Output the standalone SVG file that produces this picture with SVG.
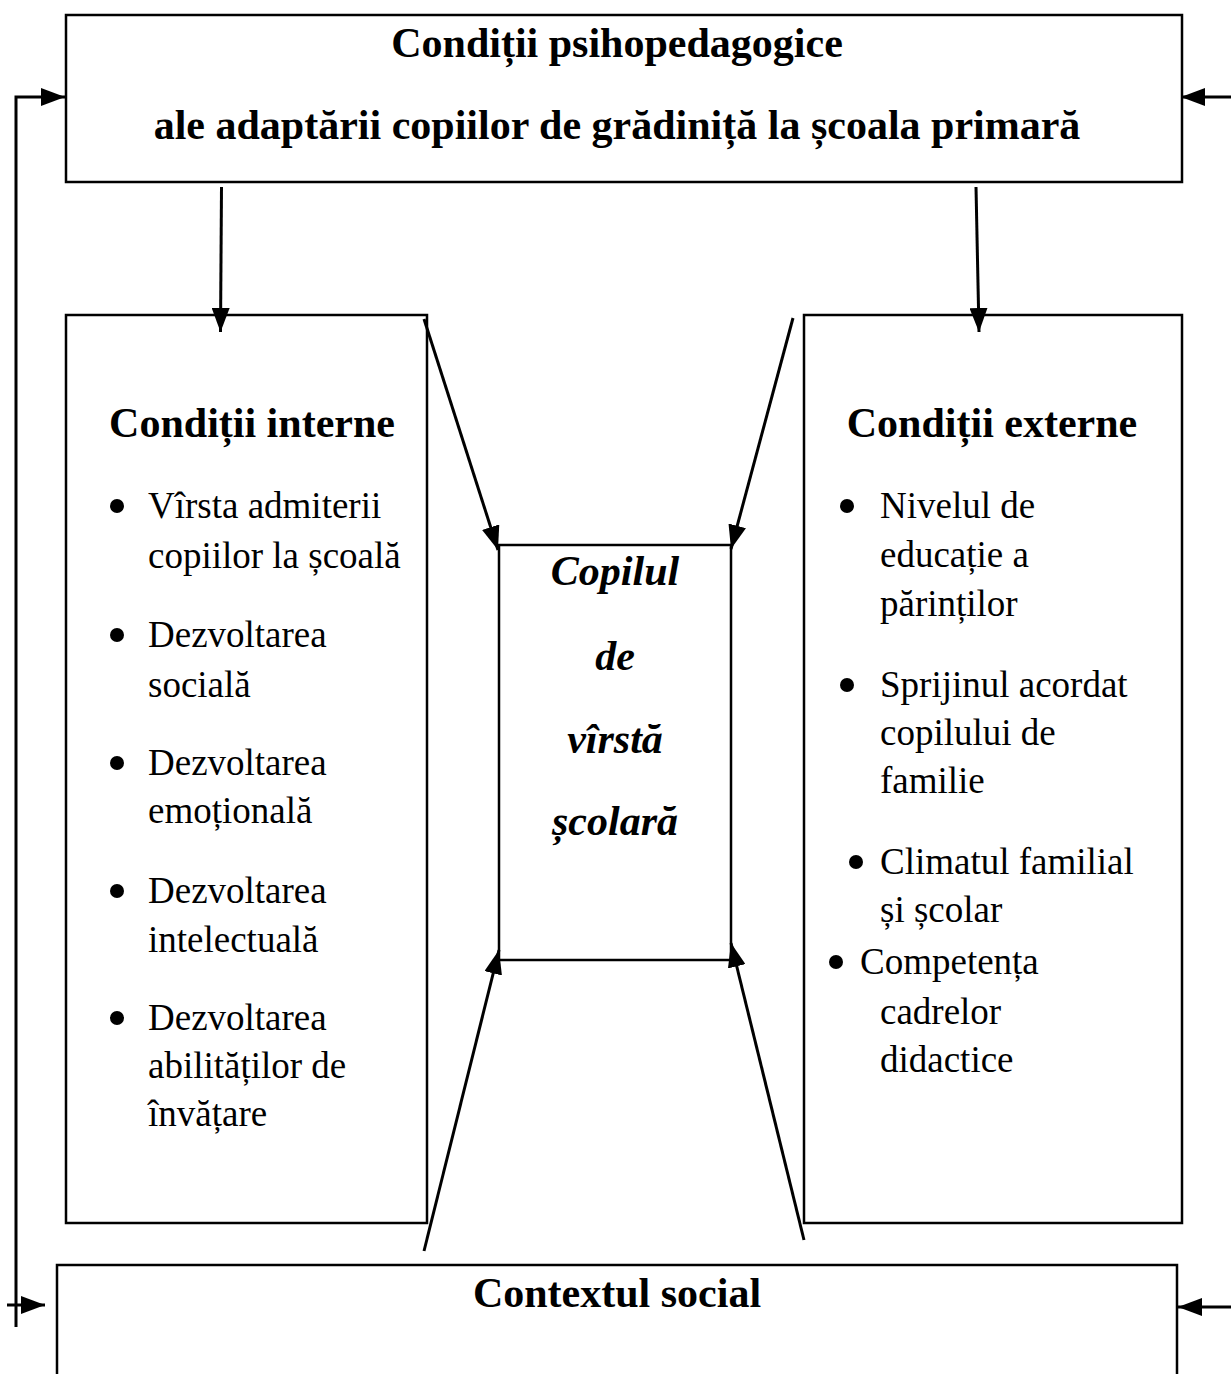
<svg xmlns="http://www.w3.org/2000/svg" width="1231" height="1374" viewBox="0 0 1231 1374">
<style>
.box{fill:#fff;stroke:#000;stroke-width:2.5}
.h{font-family:"Liberation Serif","Times New Roman",serif;font-weight:bold;font-size:42px;fill:#000;text-anchor:middle}
.c{font-family:"Liberation Serif","Times New Roman",serif;font-weight:bold;font-style:italic;font-size:42px;fill:#000;text-anchor:middle}
.t{font-family:"Liberation Serif","Times New Roman",serif;font-size:37px;fill:#000}
.ln{fill:none;stroke:#000;stroke-width:3}
</style>
<defs>
<marker id="ah" viewBox="0 0 24 18" markerWidth="24" markerHeight="18" refX="24" refY="9" orient="auto" markerUnits="userSpaceOnUse">
<path d="M0,0 L24,9 L0,18 Z" fill="#000"/>
</marker>
</defs>
<rect width="1231" height="1374" fill="#fff"/>
<g id="top">
<rect class="box" x="66" y="15" width="1116" height="167"/>
<text class="h" x="617" y="57">Condiții psihopedagogice</text>
<text class="h" x="617" y="139">ale adaptării copiilor de grădiniță la școala primară</text>
</g>
<g id="interne">
<rect class="box" x="66" y="315" width="361" height="908"/>
<text class="h" x="252" y="437">Condiții interne</text>
<g class="t">
<circle cx="117" cy="506" r="7"/><text x="148" y="518">Vîrsta admiterii</text><text x="148" y="568">copiilor la școală</text>
<circle cx="117" cy="635" r="7"/><text x="148" y="647">Dezvoltarea</text><text x="148" y="697">socială</text>
<circle cx="117" cy="763" r="7"/><text x="148" y="775">Dezvoltarea</text><text x="148" y="823">emoțională</text>
<circle cx="117" cy="891" r="7"/><text x="148" y="903">Dezvoltarea</text><text x="148" y="952">intelectuală</text>
<circle cx="117" cy="1018" r="7"/><text x="148" y="1030">Dezvoltarea</text><text x="148" y="1078">abilităților de</text><text x="148" y="1126">învățare</text>
</g>
</g>
<g id="copil">
<rect class="box" x="499" y="545" width="232" height="415"/>
<text class="c" x="615" y="585">Copilul</text>
<text class="c" x="615" y="670">de</text>
<text class="c" x="615" y="753">vîrstă</text>
<text class="c" x="615" y="835">școlară</text>
</g>
<g id="externe">
<rect class="box" x="804" y="315" width="378" height="908"/>
<text class="h" x="992" y="437">Condiții externe</text>
<g class="t">
<circle cx="847" cy="506" r="7"/><text x="880" y="518">Nivelul de</text><text x="880" y="567">educație a</text><text x="880" y="616">părinților</text>
<circle cx="847" cy="685" r="7"/><text x="880" y="697">Sprijinul acordat</text><text x="880" y="745">copilului de</text><text x="880" y="793">familie</text>
<circle cx="856" cy="862" r="7"/><text x="880" y="874">Climatul familial</text><text x="880" y="922">și școlar</text>
<circle cx="836" cy="962" r="7"/><text x="860" y="974">Competența</text><text x="880" y="1024">cadrelor</text><text x="880" y="1072">didactice</text>
</g>
</g>
<g id="context">
<path class="box" d="M57,1380 V1265 H1177 V1380"/>
<text class="h" x="617" y="1307">Contextul social</text>
</g>
<g id="connectors">
<line class="ln" x1="221.5" y1="187" x2="220.5" y2="332" marker-end="url(#ah)"/>
<line class="ln" x1="976" y1="187" x2="979" y2="332" marker-end="url(#ah)"/>
<line class="ln" x1="424" y1="319" x2="498" y2="550" marker-end="url(#ah)"/>
<line class="ln" x1="793" y1="318" x2="731" y2="549" marker-end="url(#ah)"/>
<line class="ln" x1="424" y1="1251" x2="499" y2="950" marker-end="url(#ah)"/>
<line class="ln" x1="804" y1="1240" x2="731" y2="943" marker-end="url(#ah)"/>
<path class="ln" d="M16,1327 V97 H65" marker-end="url(#ah)"/>
<line class="ln" x1="7" y1="1305" x2="45" y2="1305" marker-end="url(#ah)"/>
<line class="ln" x1="1231" y1="97" x2="1181" y2="97" marker-end="url(#ah)"/>
<line class="ln" x1="1231" y1="1307" x2="1178" y2="1307" marker-end="url(#ah)"/>
</g>
</svg>
